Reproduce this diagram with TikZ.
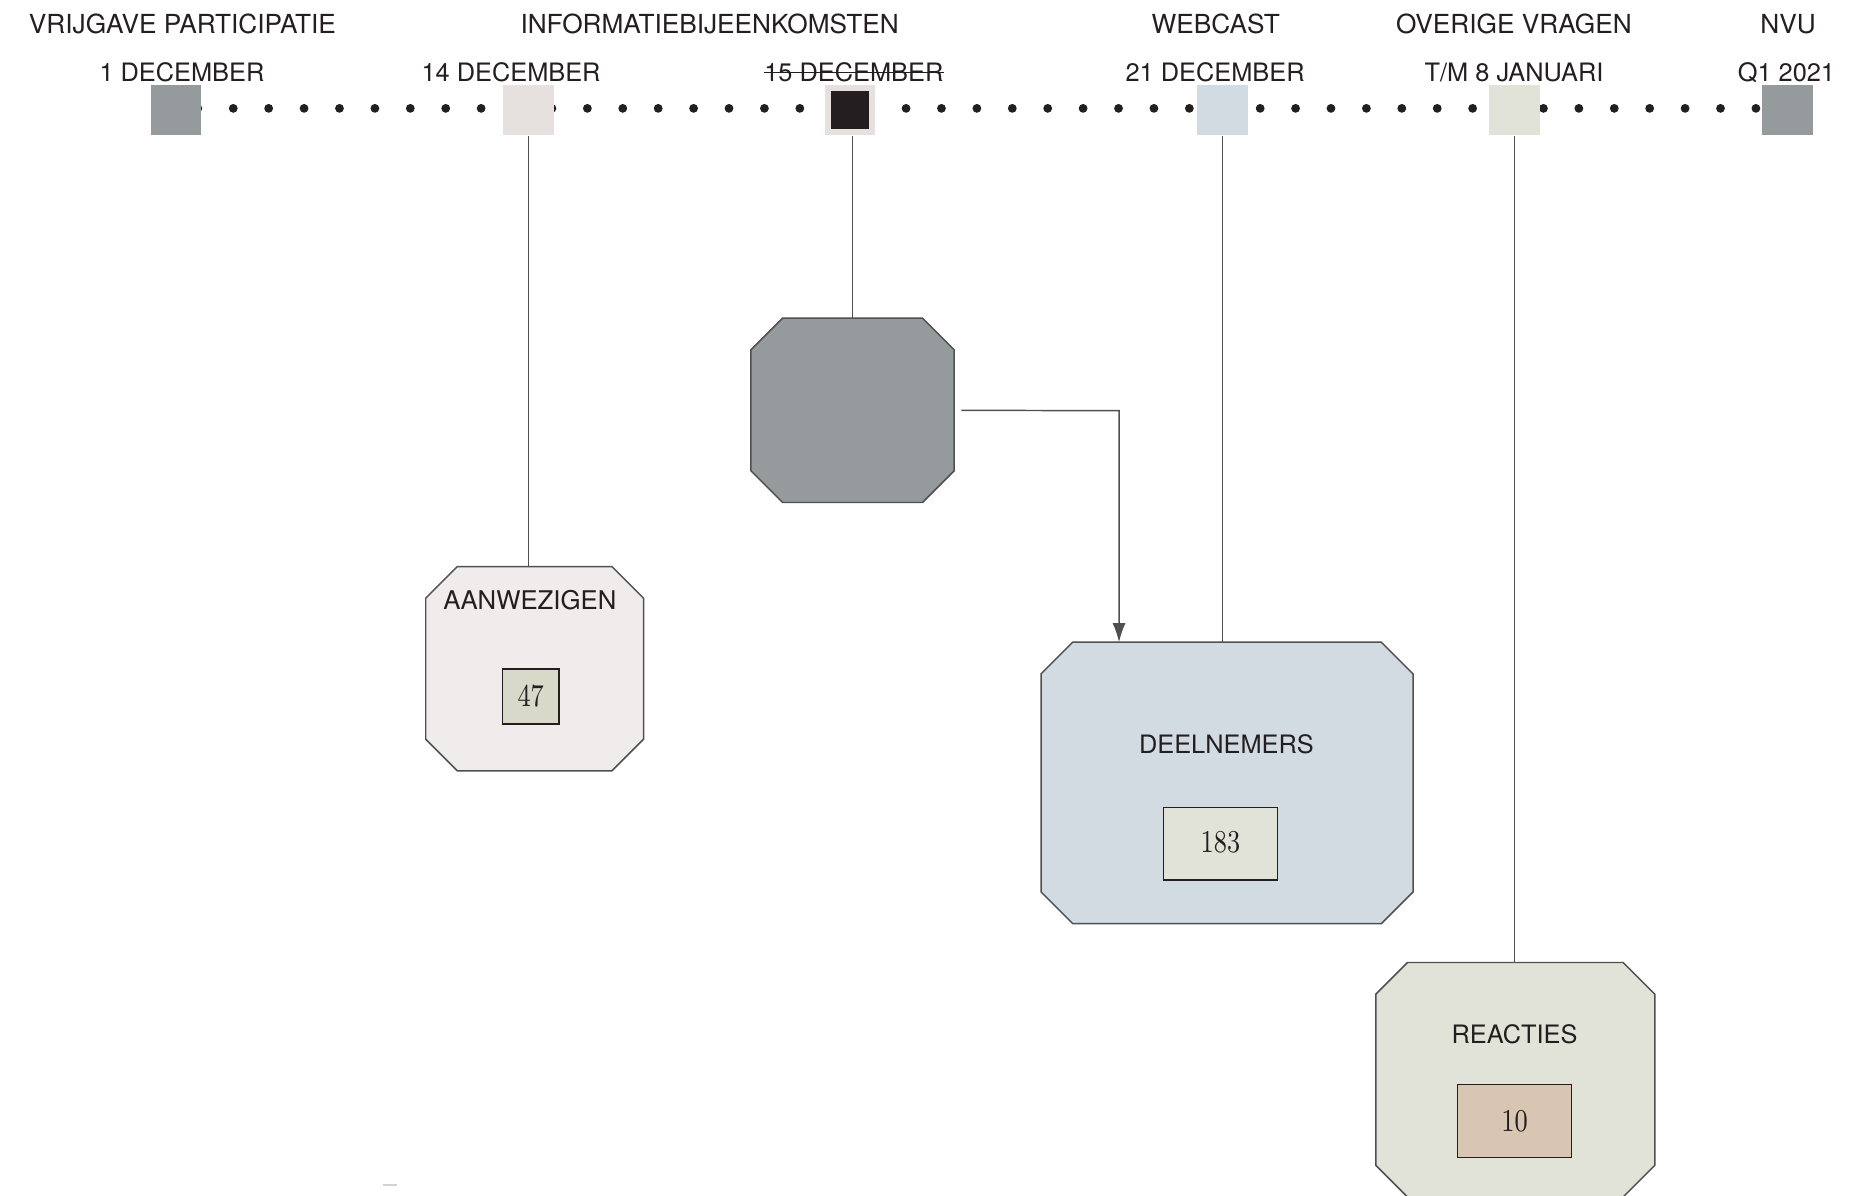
\documentclass[tikz,border=0pt]{standalone}
\usepackage{fontspec}
\usepackage{tikz}
\usetikzlibrary{arrows.meta,positioning}
\newfontfamily\heros{TeX Gyre Heros}
\definecolor{ink}{HTML}{231F20}
\definecolor{edge}{HTML}{505050}
\definecolor{markgray}{HTML}{959A9C}
\definecolor{stone}{HTML}{E6E1DE}
\definecolor{stonelight}{HTML}{EFECEB}
\definecolor{mist}{HTML}{D3DBE2}
\definecolor{sage}{HTML}{E1E3D8}
\definecolor{khaki}{HTML}{D9D9C9}
\definecolor{sand}{HTML}{D8C5B2}
% octagon drawn round a named block: node, cut, fill
\newcommand{\octagonbox}[3]{%
  \draw[octa, fill=#3]
    ([xshift=#2]#1.north west) -- ([xshift=-#2]#1.north east)
    -- ([yshift=-#2]#1.north east) -- ([yshift=#2]#1.south east)
    -- ([xshift=-#2]#1.south east) -- ([xshift=#2]#1.south west)
    -- ([yshift=#2]#1.south west) -- ([yshift=-#2]#1.north west) -- cycle;}
\newcommand{\tallnum}[1]{\scalebox{0.78}[1]{#1}}

\begin{document}
\begin{tikzpicture}[
  every node/.style={font=\heros\fontsize{6.06}{7}\selectfont, text=ink},
  tag/.style={anchor=base, inner sep=0pt},
  title/.style={tag, font=\heros\fontsize{6.27}{7}\selectfont},
  marker/.style={minimum size=4.25mm, inner sep=0pt},
  block/.style={inner sep=0pt},
  octa/.style={draw=edge, line width=0.35pt},
  countbox/.style={draw=ink, line width=0.35pt, inner sep=0pt,
    font=\rmfamily\fontsize{7.6}{8}\selectfont},
  link/.style={edge, line width=0.35pt},
  flow/.style={-{Latex[length=1.6mm, width=1.1mm]}, edge, line width=0.35pt}
]
\useasboundingbox (0,0) rectangle (15.68,-10.04);

% Dotted time line, markers on top.
\foreach \k in {-1,...,43}
  \fill[ink] ({1.959+0.2974*\k},-0.91) circle (0.37mm);

\node[marker, fill=markgray] (m1) at (1.478,-0.924) {};
\node[marker, fill=stone] (m2) at (4.437,-0.924) {};
\node[marker, fill=stone] (m3) at (7.138,-0.924) {};
\node[minimum size=3.25mm, inner sep=0pt, fill=ink] at (m3) {};
\node[marker, fill=mist] (m4) at (10.268,-0.924) {};
\node[marker, fill=sage] (m5) at (12.72,-0.924) {};
\node[marker, fill=markgray] (m6) at (15.01,-0.924) {};

% Phase titles and dates.
\node[title] (h1) at (1.532,-0.283) {VRIJGAVE PARTICIPATIE};
\node[title] (h2) at (5.96,-0.283) {INFORMATIEBIJEENKOMSTEN};
\node[title] (h3) at (10.21,-0.283) {WEBCAST};
\node[title] (h4) at (12.715,-0.283) {OVERIGE VRAGEN};
\node[title] (h5) at (15.017,-0.283) {NVU};

\node[tag] (d1) at (1.528,-0.686) {1 DECEMBER};
\node[tag] (d2) at (4.292,-0.686) {14 DECEMBER};
\node[tag] (d3) at (7.171,-0.686) {15 DECEMBER};
\node[tag] (d4) at (10.205,-0.686) {21 DECEMBER};
\node[tag] (d5) at (12.715,-0.686) {T/M 8 JANUARI};
\node[tag] (d6) at (15.003,-0.686) {Q1 2021};
\draw[ink, line width=0.35pt] ([yshift=0.76mm]d3.base west) -- ([yshift=0.76mm]d3.base east);

% Result blocks.
\node[block, minimum width=18.15mm, minimum height=17.02mm] (aanw) at (4.49,-5.616) {};
\node[block, minimum width=16.93mm, minimum height=15.34mm] (meet) at (7.16,-3.446) {};
\node[block, minimum width=31.1mm, minimum height=23.5mm] (deel) at (10.305,-6.575) {};
\node[block, minimum width=23.29mm, minimum height=19.55mm] (reac) at (12.726,-9.068) {};
\octagonbox{aanw}{2.66mm}{stonelight}
\octagonbox{meet}{2.66mm}{markgray}
\octagonbox{deel}{2.66mm}{mist}
\octagonbox{reac}{2.66mm}{sage}

\node[tag, font=\heros\fontsize{6.15}{7}\selectfont] (aanwlbl) at (4.45,-5.115) {AANWEZIGEN};
\node[tag] (deellbl) at (10.30,-6.33) {DEELNEMERS};
\node[tag] (reaclbl) at (12.72,-8.76) {REACTIES};

\node[countbox, fill=khaki, minimum width=4.76mm, minimum height=4.6mm] (n47) at (4.457,-5.85) {\tallnum{47}};
\node[countbox, fill=sage, minimum width=9.6mm, minimum height=6.1mm] (n183) at (10.25,-7.085) {\raisebox{0.3mm}{\tallnum{183}}};
\node[countbox, fill=sand, minimum width=9.6mm, minimum height=6.1mm] (n10) at (12.72,-9.415) {\raisebox{-0.6mm}{\tallnum{10}}};

% Connectors.
\draw[link] (m2.south) -- (m2.south |- aanw.north);
\draw[link] (meet.north) -- (meet.north |- m3.south);
\draw[link] (m4.south) -- (m4.south |- deel.north);
\draw[link] (m5.south) -- (m5.south |- reac.north);
\coordinate (turn) at (9.398,-3.449);
\draw[flow, shorten <=0.6mm] (meet.east) -- (turn) -- (turn |- deel.north);

\draw[gray!35, line width=0.4pt] (3.217,-9.95) -- (3.334,-9.95);
\end{tikzpicture}
\end{document}
